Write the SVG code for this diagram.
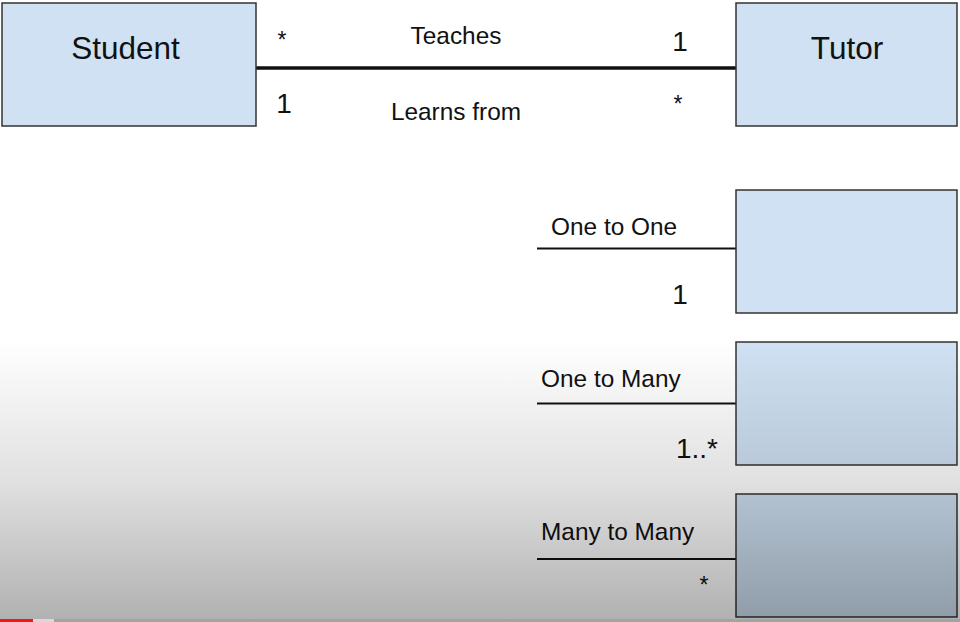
<svg xmlns="http://www.w3.org/2000/svg" width="960" height="622" viewBox="0 0 960 622">
<defs>
<linearGradient id="shade" x1="0" y1="340" x2="0" y2="622" gradientUnits="userSpaceOnUse">
<stop offset="0" stop-color="#000" stop-opacity="0"/>
<stop offset="0.5" stop-color="#000" stop-opacity="0.12"/>
<stop offset="1" stop-color="#000" stop-opacity="0.31"/>
</linearGradient>
</defs>
<style>
.box{fill:#cfe1f3;stroke:#333;stroke-width:1.5}
.t{font-family:"Liberation Sans",Arial,sans-serif;fill:#111}
.big{font-size:31.5px}
.lbl{font-size:24.4px}
.num{font-size:28px}
.star{font-size:23px}
.conn{stroke:#111;fill:none}
</style>
<rect width="960" height="622" fill="#fff"/>
<g id="connectors">
<line class="conn" x1="256" y1="68" x2="737" y2="68" stroke-width="3.5"/>
<line class="conn" x1="537" y1="248.5" x2="736" y2="248.5" stroke-width="2"/>
<line class="conn" x1="537" y1="403.5" x2="736" y2="403.5" stroke-width="2"/>
<line class="conn" x1="537" y1="559" x2="736" y2="559" stroke-width="2.2"/>
</g>
<g id="student">
<rect class="box" x="2" y="3" width="254" height="123"/>
<text class="t big" x="125.5" y="59" text-anchor="middle">Student</text>
</g>
<g id="tutor">
<rect class="box" x="736" y="3" width="221" height="123"/>
<text class="t big" x="847" y="59" text-anchor="middle">Tutor</text>
</g>
<g id="one-to-one">
<rect class="box" x="736" y="190" width="221" height="123"/>
</g>
<g id="one-to-many">
<rect class="box" x="736" y="342" width="221" height="123"/>
</g>
<g id="many-to-many">
<rect class="box" x="736" y="494" width="221" height="123"/>
</g>
<g id="labels">
<text class="t star" x="282" y="48" text-anchor="middle">*</text>
<text class="t lbl" x="456" y="44" text-anchor="middle">Teaches</text>
<text class="t num" x="284" y="113" text-anchor="middle">1</text>
<text class="t lbl" x="456" y="120" text-anchor="middle">Learns from</text>
<text class="t num" x="680" y="51" text-anchor="middle">1</text>
<text class="t star" x="678" y="112" text-anchor="middle">*</text>
<text class="t lbl" x="551" y="235">One to One</text>
<text class="t num" x="680" y="304" text-anchor="middle">1</text>
<text class="t lbl" x="541" y="387">One to Many</text>
<text class="t num" x="718" y="458" text-anchor="end">1..*</text>
<text class="t lbl" x="541" y="540">Many to Many</text>
<text class="t star" x="704" y="593" text-anchor="middle">*</text>
</g>
<rect x="0" y="340" width="960" height="282" fill="url(#shade)"/>
<rect x="0" y="619" width="960" height="3" fill="#9a9a9a" opacity="0.6"/>
<rect x="0" y="619" width="54" height="3" fill="#d8d8d8"/>
<rect x="0" y="619" width="33" height="3" fill="#f01818"/>
</svg>
